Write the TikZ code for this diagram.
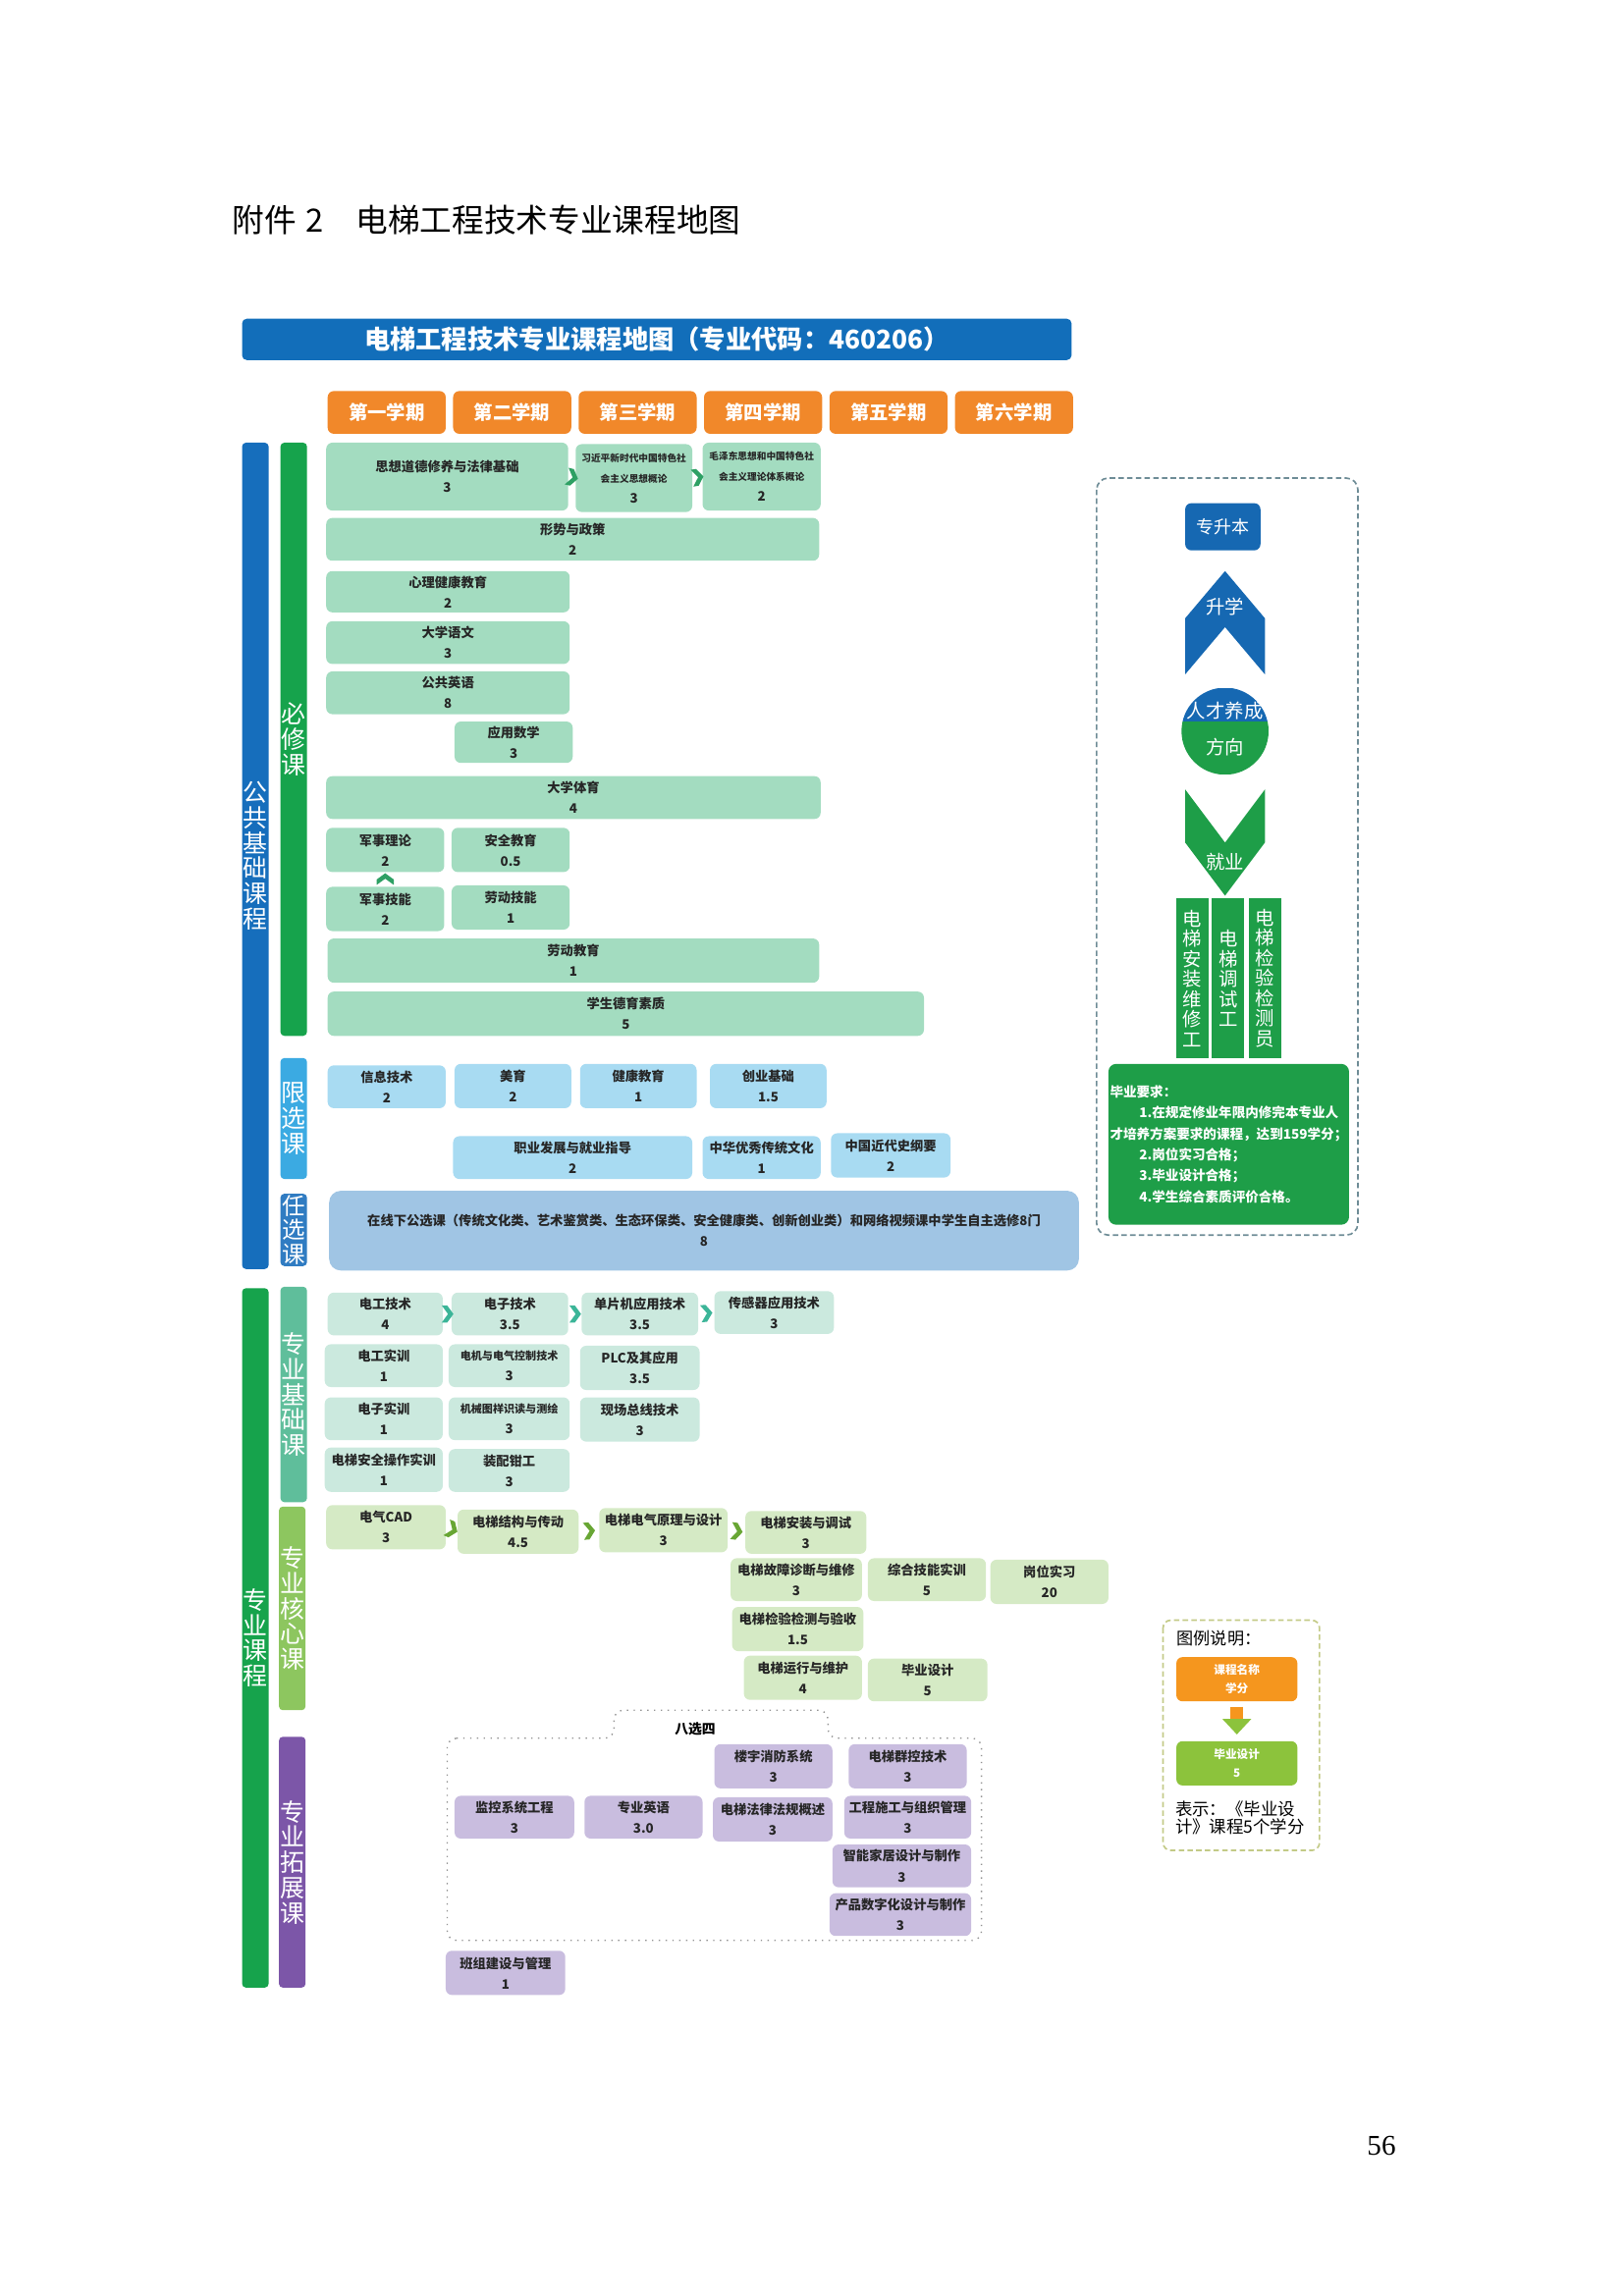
\documentclass[tikz,border=0pt]{standalone}
\usepackage{fontspec}
\setmainfont{Noto Sans CJK SC}
\newfontfamily\pagefont{Liberation Serif}
\usepackage{tikz}
\usetikzlibrary{arrows.meta,decorations.markings}

\definecolor{titleblue}{RGB}{18,110,186}
\definecolor{semorange}{RGB}{241,136,42}
\definecolor{barblue}{RGB}{22,110,188}
\definecolor{bargreen}{RGB}{22,163,76}
\definecolor{barlim}{RGB}{59,170,226}
\definecolor{baropt}{RGB}{48,124,194}
\definecolor{barfnd}{RGB}{95,190,155}
\definecolor{barcore}{RGB}{141,198,95}
\definecolor{barext}{RGB}{124,86,168}
\definecolor{pubmint}{RGB}{163,220,192}
\definecolor{limblue}{RGB}{168,219,242}
\definecolor{optblue}{RGB}{160,197,228}
\definecolor{fndmint}{RGB}{203,233,222}
\definecolor{coregreen}{RGB}{213,234,197}
\definecolor{extpurple}{RGB}{201,189,223}
\definecolor{chpub}{RGB}{46,160,100}
\definecolor{chfnd}{RGB}{60,181,152}
\definecolor{chcore}{RGB}{104,166,52}
\definecolor{upblue}{RGB}{22,104,178}
\definecolor{jobgreen}{RGB}{30,158,72}
\definecolor{panelgray}{RGB}{110,140,150}
\definecolor{legorange}{RGB}{245,150,30}
\definecolor{leggreen}{RGB}{140,195,60}
\definecolor{legdash}{RGB}{195,202,135}

\newcommand{\ux}{0.01909cm}
% box from corner (x1,y1) to (x2,y2): style, name, x1, y1, x2, y2, text
\newcommand{\kcbox}[7]{\node[#1, minimum width={(#5-#3)*\ux}, minimum height={(#6-#4)*\ux}] (#2) at ({(#3+#5)/2},{(#4+#6)/2}) {#7};}

\tikzset{
  crs/.style={rounded corners=0.08cm, inner sep=0pt, align=center, text=black!85, font=\bfseries\fontsize{4.8}{7.6}\selectfont},
  pub/.style={crs, fill=pubmint},
  lim/.style={crs, fill=limblue},
  opt/.style={crs, fill=optblue},
  fnd/.style={crs, fill=fndmint},
  core/.style={crs, fill=coregreen},
  ext/.style={crs, fill=extpurple},
  vbar/.style={rounded corners=0.05cm, inner sep=0pt, align=center, text=white, font=\fontsize{9}{9.3}\selectfont},
  sem/.style={fill=semorange, text=white, rounded corners=0.08cm, inner sep=0pt, font=\bfseries\fontsize{7}{8}\selectfont, minimum width=80*\ux, minimum height=29*\ux},
  job/.style={fill=jobgreen, text=white, inner sep=0pt, align=center, font=\fontsize{7}{7.4}\selectfont},
  chev/.style={decorate, decoration={markings, mark=at position 0.5 with {\fill[#1] (-0.07cm,-0.11cm) -- (0cm,-0.11cm) -- (0.08cm,0cm) -- (0cm,0.11cm) -- (-0.07cm,0.11cm) -- (0.01cm,0cm) -- cycle;}}},
  legarrow/.style={line width=0.17cm, draw=legorange, -{Triangle[width=0.36cm, length=0.2cm, color=leggreen]}, shorten <=0.06cm, shorten >=0.08cm},
}

\begin{document}
\begin{tikzpicture}[x=0.01909cm, y=-0.01909cm]
\useasboundingbox (0,0) rectangle (1100,1556);

% heading and title bar
\node[anchor=west, inner sep=0pt, font=\fontsize{11.8}{14}\selectfont] (head) at (157,149) {附件\hspace{0.3em}2\hspace{1em}电梯工程技术专业课程地图};
\kcbox{crs, fill=titleblue, text=white, rounded corners=0.06cm, font=\bfseries\fontsize{9.5}{10}\selectfont}{tbar}{164}{216}{726}{244}{电梯工程技术专业课程地图（专业代码：460206）}

% semesters
\foreach \i/\t in {0/第一学期,1/第二学期,2/第三学期,3/第四学期,4/第五学期,5/第六学期}
  \node[sem] (sem\i) at ({262+85*\i},279.5) {\t};

% side bars
\kcbox{vbar, fill=barblue}{lgg}{164}{300}{182}{860}{公\\共\\基\\础\\课\\程}
\kcbox{vbar, fill=bargreen}{lbx}{190}{300}{208}{702}{必\\修\\课}
\kcbox{vbar, fill=barlim}{lxx}{190}{717}{208}{799}{限\\选\\课}
\kcbox{vbar, fill=baropt, font=\fontsize{8.5}{8.8}\selectfont}{lrx}{190}{809}{208}{858}{任\\选\\课}
\kcbox{vbar, fill=bargreen}{lzy}{164}{873}{182}{1347}{专\\业\\课\\程}
\kcbox{vbar, fill=barfnd}{ljc}{190}{872}{208}{1018}{专\\业\\基\\础\\课}
\kcbox{vbar, fill=barcore}{lhx}{189}{1021}{207}{1159}{专\\业\\核\\心\\课}
\kcbox{vbar, fill=barext}{ltz}{189}{1177}{207}{1347}{专\\业\\拓\\展\\课}

% public required
\kcbox{pub}{szdd}{221}{300}{385}{346}{思想道德修养与法律基础\\3}
\kcbox{pub}{xjp}{390}{301}{469}{347}{\fontsize{3.5}{7.3}\selectfont 习近平新时代中国特色社\\\fontsize{3.5}{7.3}\selectfont 会主义思想概论\\\fontsize{4.8}{7.3}\selectfont 3}
\kcbox{pub}{mzd}{476}{300}{556}{346}{\fontsize{3.5}{7.3}\selectfont 毛泽东思想和中国特色社\\\fontsize{3.5}{7.3}\selectfont 会主义理论体系概论\\\fontsize{4.8}{7.3}\selectfont 2}
\kcbox{pub}{xszc}{221}{351}{555}{380}{形势与政策\\2}
\kcbox{pub}{xljk}{221}{387}{386}{415}{心理健康教育\\2}
\kcbox{pub}{dxyw}{221}{421}{386}{450}{大学语文\\3}
\kcbox{pub}{ggyy}{221}{455}{386}{484}{公共英语\\8}
\kcbox{pub}{yysx}{308}{489}{388}{517}{应用数学\\3}
\kcbox{pub}{dxty}{221}{526}{556}{555}{大学体育\\4}
\kcbox{pub}{jsll}{221}{561}{301}{591}{军事理论\\2}
\kcbox{pub}{aqjy}{306}{561}{386}{591}{安全教育\\0.5}
\kcbox{pub}{jsjn}{221}{601}{301}{631}{军事技能\\2}
\kcbox{pub}{ldjn}{306}{600}{386}{630}{劳动技能\\1}
\kcbox{pub}{ldjy}{222}{636}{555}{666}{劳动教育\\1}
\kcbox{pub}{dyzs}{222}{672}{626}{702}{学生德育素质\\5}
\path[chev=chpub] (szdd.east) -- (xjp.west);
\path[chev=chpub] (xjp.east) -- (mzd.west);
\path[chev=chpub] (jsjn.north) -- (jsll.south);

% limited and free electives
\kcbox{lim}{xxjs}{222}{722}{302}{751}{信息技术\\2}
\kcbox{lim}{meiyu}{308}{721}{387}{751}{美育\\2}
\kcbox{lim}{jkjy}{393}{721}{472}{751}{健康教育\\1}
\kcbox{lim}{cyjc}{481}{721}{560}{751}{创业基础\\1.5}
\kcbox{lim}{zyfz}{307}{770}{469}{799}{职业发展与就业指导\\2}
\kcbox{lim}{zhyx}{476}{770}{556}{799}{中华优秀传统文化\\1}
\kcbox{lim}{zgjd}{563}{768}{644}{798}{中国近代史纲要\\2}
\kcbox{opt, rounded corners=0.15cm}{rxk}{223}{807}{731}{861}{在线下公选课（传统文化类、艺术鉴赏类、生态环保类、安全健康类、创新创业类）和网络视频课中学生自主选修8门\\8}

% professional foundation
\kcbox{fnd}{dgjs}{222}{876}{300}{905}{电工技术\\4}
\kcbox{fnd}{dzjs}{306}{876}{385}{905}{电子技术\\3.5}
\kcbox{fnd}{dpj}{394}{876}{473}{905}{单片机应用技术\\3.5}
\kcbox{fnd}{cgq}{484}{875}{565}{904}{传感器应用技术\\3}
\kcbox{fnd}{dgsx}{220}{911}{300}{940}{电工实训\\1}
\kcbox{fnd}{djdq}{304}{911}{386}{940}{\fontsize{4}{7.6}\selectfont 电机与电气控制技术\\\fontsize{4.8}{7.6}\selectfont 3}
\kcbox{fnd}{plc}{393}{912}{474}{942}{PLC及其应用\\3.5}
\kcbox{fnd}{dzsx}{220}{947}{300}{976}{电子实训\\1}
\kcbox{fnd}{jxtx}{304}{947}{386}{976}{\fontsize{4}{7.6}\selectfont 机械图样识读与测绘\\\fontsize{4.8}{7.6}\selectfont 3}
\kcbox{fnd}{xczx}{393}{947}{474}{977}{现场总线技术\\3}
\kcbox{fnd}{aqcz}{220}{981}{300}{1011}{电梯安全操作实训\\1}
\kcbox{fnd}{zpqg}{304}{982}{386}{1011}{装配钳工\\3}
\path[chev=chfnd] (dgjs.east) -- (dzjs.west);
\path[chev=chfnd] (dzjs.east) -- (dpj.west);
\path[chev=chfnd] (dpj.east) -- (cgq.west);

% professional core
\kcbox{core}{cad}{221}{1020}{302}{1050}{电气CAD\\3}
\kcbox{core}{jgcd}{310}{1023}{392}{1053}{电梯结构与传动\\4.5}
\kcbox{core}{dqyl}{406}{1022}{493}{1052}{电梯电气原理与设计\\3}
\kcbox{core}{azts}{505}{1024}{587}{1053}{电梯安装与调试\\3}
\kcbox{core}{gzzd}{495}{1056}{584}{1085}{电梯故障诊断与维修\\3}
\kcbox{core}{zhjn}{588}{1056}{668}{1085}{综合技能实训\\5}
\kcbox{core}{gwsx}{671}{1057}{751}{1087}{岗位实习\\20}
\kcbox{core}{jyjc}{496}{1089}{585}{1119}{电梯检验检测与验收\\1.5}
\kcbox{core}{yxwh}{504}{1122}{584}{1152}{电梯运行与维护\\4}
\kcbox{core}{bysj}{588}{1124}{669}{1153}{毕业设计\\5}
\path[chev=chcore] (cad.east) -- (jgcd.west);
\path[chev=chcore] (jgcd.east) -- (dqyl.west);
\path[chev=chcore] (dqyl.east) -- (azts.west);

% professional extension, choose four of eight
\draw[gray!85, dotted, line width=0.5pt, rounded corners=0.12cm] (303,1178) -- (416,1178) -- (416,1159) -- (561,1159) -- (561,1178) -- (665,1178) -- (665,1315) -- (303,1315) -- cycle;
\node[font=\bfseries\fontsize{5}{6}\selectfont] (bxs) at (471,1172) {八选四};
\kcbox{ext}{lyxf}{484}{1182}{564}{1212}{楼宇消防系统\\3}
\kcbox{ext}{qkjs}{575}{1182}{655}{1212}{电梯群控技术\\3}
\kcbox{ext}{jkxt}{308}{1217}{389}{1246}{监控系统工程\\3}
\kcbox{ext}{zyyy}{396}{1217}{476}{1246}{专业英语\\3.0}
\kcbox{ext}{flfg}{483}{1218}{564}{1248}{电梯法律法规概述\\3}
\kcbox{ext}{sgzz}{572}{1217}{658}{1246}{工程施工与组织管理\\3}
\kcbox{ext}{znjj}{564}{1250}{658}{1279}{智能家居设计与制作\\3}
\kcbox{ext}{szh}{562}{1283}{658}{1312}{产品数字化设计与制作\\3}
\kcbox{ext}{bzjs}{302}{1322}{383}{1352}{班组建设与管理\\1}

% right panel
\draw[panelgray, line width=0.6pt, dash pattern=on 2pt off 1.2pt, rounded corners=0.15cm] (743,324) rectangle (920,837);
\kcbox{crs, fill=upblue, text=white, font=\fontsize{6.5}{7}\selectfont}{zsb}{803}{341}{854}{373}{专升本}
\fill[upblue] (803,419) -- (830,387) -- (857,419) -- (857,457) -- (830,425) -- (803,457) -- cycle;
\node[text=white, font=\fontsize{7}{8}\selectfont] (sx) at (830,411) {升学};
\node[circle, inner sep=0pt, minimum size=59*\ux, path picture={
  \fill[upblue] (path picture bounding box.north west) rectangle ([yshift=0.124cm]path picture bounding box.east);
  \fill[jobgreen] ([yshift=0.124cm]path picture bounding box.west) rectangle (path picture bounding box.south east);}] (rcyc) at (830,495.5) {};
\node[text=white, font=\fontsize{7}{8}\selectfont] (rc1) at (830,481.5) {人才养成};
\node[text=white, font=\fontsize{7}{8}\selectfont] (rc2) at (830,506.5) {方向};
\fill[jobgreen] (803,535) -- (830,571) -- (857,535) -- (857,571) -- (830,607) -- (803,571) -- cycle;
\node[text=white, font=\fontsize{7}{8}\selectfont] (jy) at (830,584) {就业};
\kcbox{job}{job1}{797}{609}{819}{717}{电\\梯\\安\\装\\维\\修\\工}
\kcbox{job}{job2}{821}{609}{843}{717}{电\\梯\\调\\试\\工}
\kcbox{job}{job3}{846}{609}{868}{717}{电\\梯\\检\\验\\检\\测\\员}
\kcbox{crs, fill=jobgreen, text=white, align=left, font=\bfseries\fontsize{4.9}{7.7}\selectfont, rounded corners=0.1cm}{req}{751}{721}{914}{830}{毕业要求：\\\hspace*{2.2em}1.在规定修业年限内修完本专业人\\才培养方案要求的课程，达到159学分；\\\hspace*{2.2em}2.岗位实习合格；\\\hspace*{2.2em}3.毕业设计合格；\\\hspace*{2.2em}4.学生综合素质评价合格。}

% legend
\draw[legdash, line width=0.6pt, dash pattern=on 2pt off 1.2pt, rounded corners=0.1cm] (788,1098) rectangle (894,1254);
\node[anchor=west, inner sep=0pt, font=\fontsize{6.2}{7}\selectfont] (lgt) at (797,1110) {图例说明：};
\kcbox{crs, fill=legorange, text=white, font=\bfseries\fontsize{4.2}{6.7}\selectfont}{lgo}{797}{1123}{879}{1153}{课程名称\\学分}
\kcbox{crs, fill=leggreen, text=white, font=\bfseries\fontsize{4.2}{6.7}\selectfont}{lgg}{797}{1180}{879}{1210}{毕业设计\\5}
\draw[legarrow] (lgo.south) -- (lgg.north);
\node[anchor=west, inner sep=0pt, align=left, font=\fontsize{6.3}{6.6}\selectfont] (lgx) at (796,1232) {表示：《毕业设\\计》课程5个学分};

% page number
\node[font=\pagefont\fontsize{10.5}{12}\selectfont] (pg) at (936,1454) {56};
\end{tikzpicture}
\end{document}
